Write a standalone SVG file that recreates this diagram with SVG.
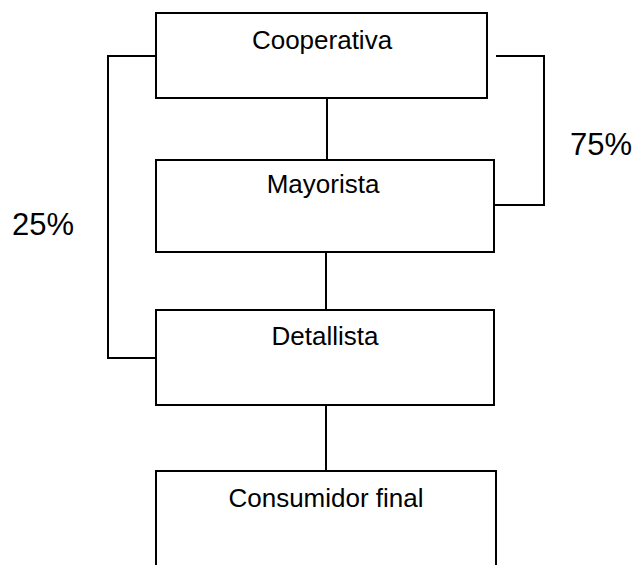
<svg xmlns="http://www.w3.org/2000/svg" width="638" height="565" viewBox="0 0 638 565">
<style>
.box{fill:#fff;stroke:#000;stroke-width:2}
.lbl{font-family:"Liberation Sans",Arial,sans-serif;font-size:26px;fill:#000;text-anchor:middle}
.pct{font-family:"Liberation Sans",Arial,sans-serif;font-size:31px;fill:#000}
.con{fill:none;stroke:#000;stroke-width:2}
</style>
<rect width="638" height="565" fill="#fff"/>
<g id="connectors">
<line class="con" x1="327" y1="98" x2="327" y2="160"/>
<line class="con" x1="326" y1="252" x2="326" y2="310"/>
<line class="con" x1="326" y1="405" x2="326" y2="471"/>
<polyline class="con" points="158,56 108,56 108,358 156,358"/>
<polyline class="con" points="496,56 544,56 544,205 494,205"/>
</g>
<g id="cooperativa">
<rect class="box" x="156" y="13" width="331" height="85"/>
<text class="lbl" x="322" y="49">Cooperativa</text>
</g>
<g id="mayorista">
<rect class="box" x="156" y="160" width="338" height="92"/>
<text class="lbl" x="323" y="193">Mayorista</text>
</g>
<g id="detallista">
<rect class="box" x="156" y="310" width="338" height="95"/>
<text class="lbl" x="325" y="345">Detallista</text>
</g>
<g id="consumidor">
<rect class="box" x="156" y="471" width="340" height="120"/>
<text class="lbl" x="326" y="507">Consumidor final</text>
</g>
<g id="labels">
<text class="pct" x="12" y="235">25%</text>
<text class="pct" x="570" y="155">75%</text>
</g>
</svg>
